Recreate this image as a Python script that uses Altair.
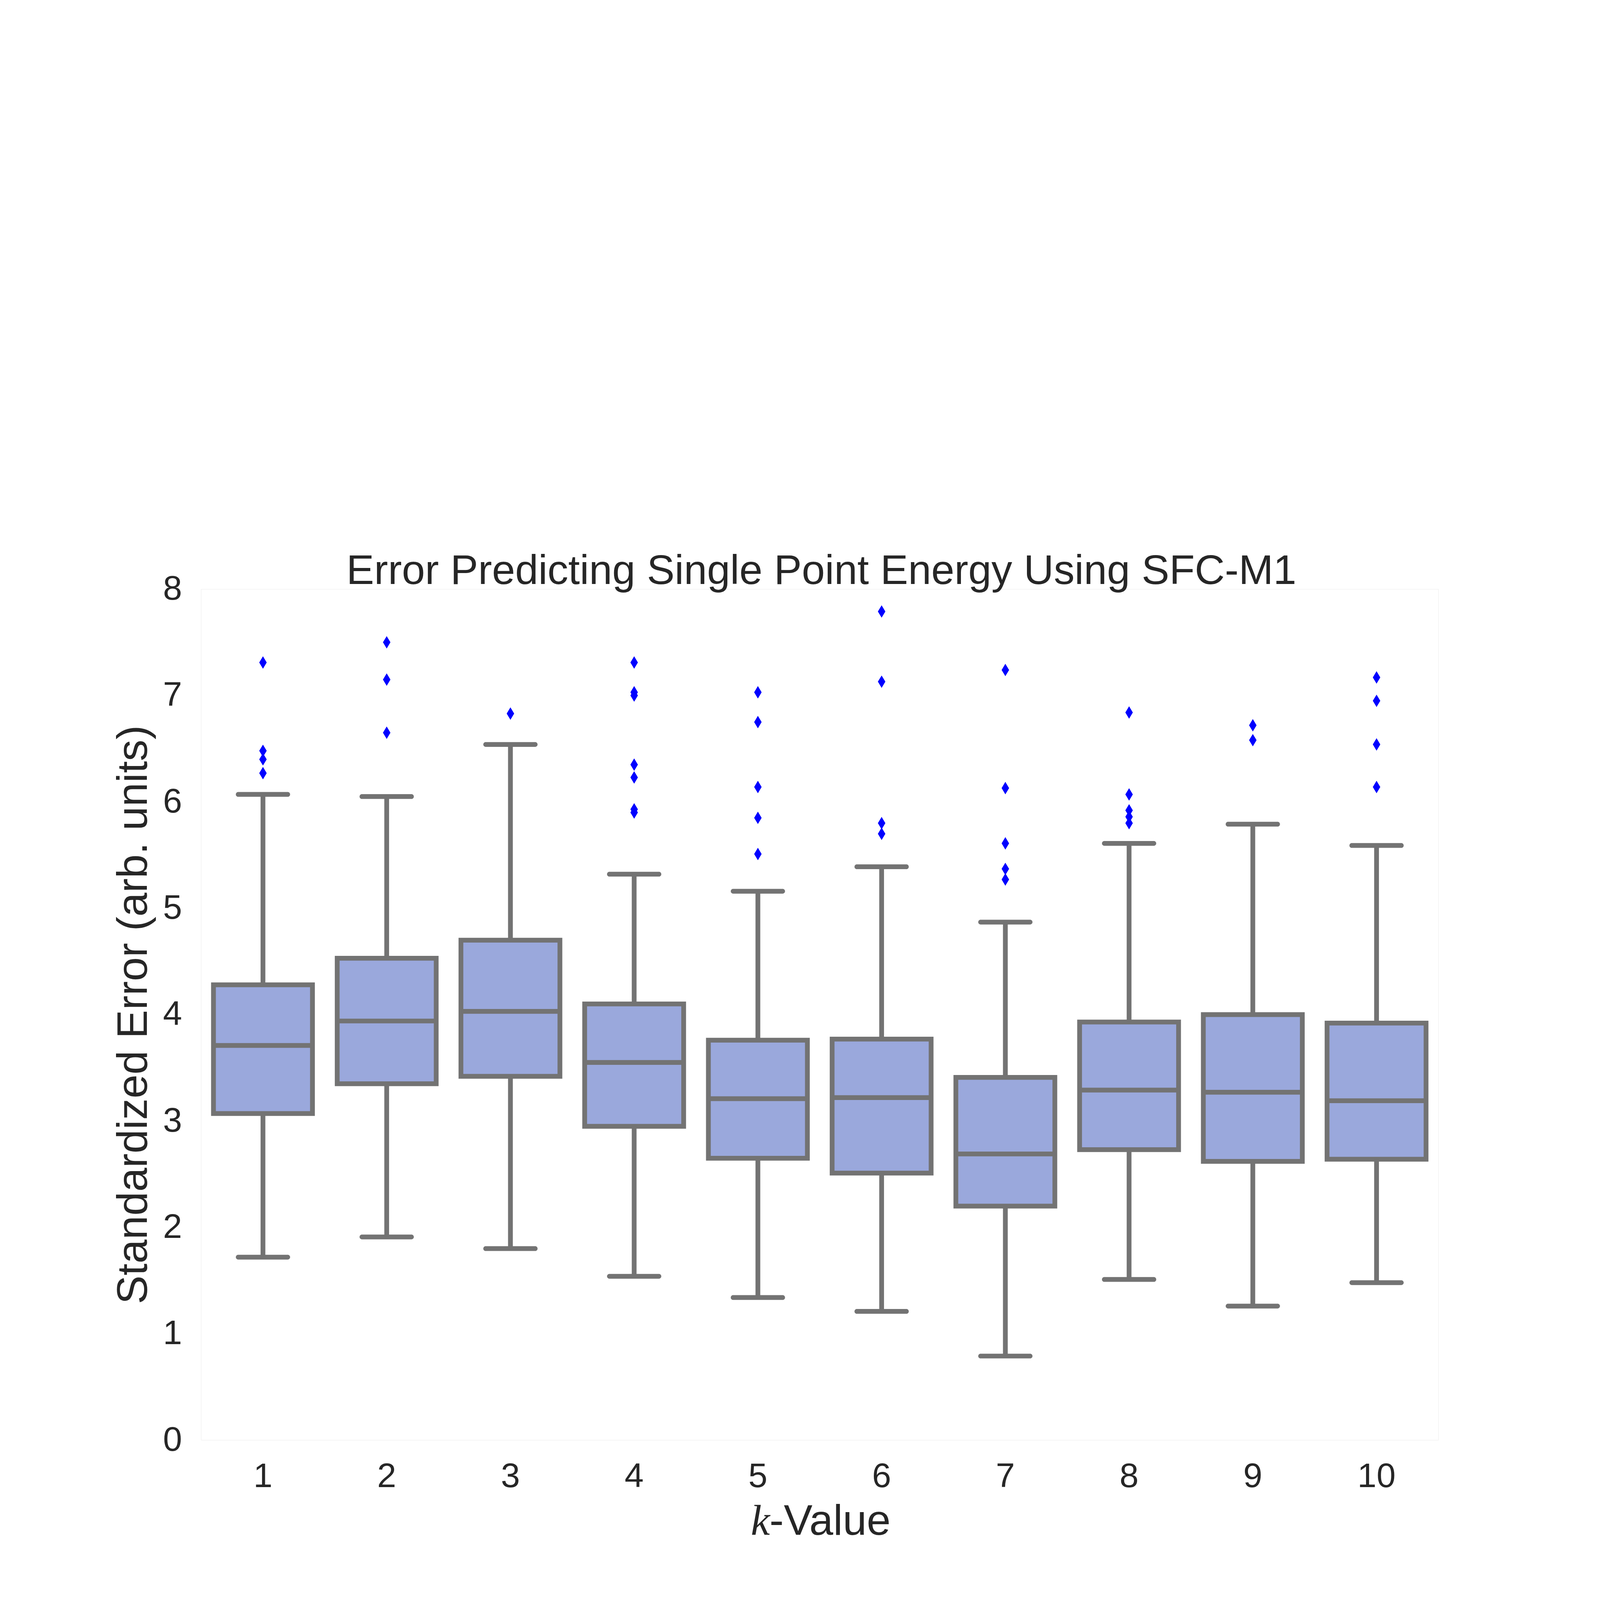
import altair as alt
import pandas as pd

# ---- data ----
k_values = ["1", "2", "3", "4", "5", "6", "7", "8", "9", "10"]
whisk_lo = [1.72, 1.91, 1.80, 1.54, 1.34, 1.21, 0.79, 1.51, 1.26, 1.48]
q1 =       [3.07, 3.35, 3.42, 2.95, 2.65, 2.51, 2.20, 2.73, 2.62, 2.64]
median =   [3.71, 3.94, 4.03, 3.55, 3.21, 3.22, 2.69, 3.29, 3.27, 3.19]
q3 =       [4.28, 4.53, 4.70, 4.10, 3.76, 3.77, 3.41, 3.93, 4.00, 3.92]
whisk_hi = [6.07, 6.05, 6.54, 5.32, 5.16, 5.39, 4.87, 5.61, 5.79, 5.59]
outliers = [
    [7.31, 6.48, 6.40, 6.27],
    [7.50, 7.15, 6.65],
    [6.83],
    [7.31, 7.03, 7.00, 6.35, 6.23, 5.93, 5.90],
    [7.03, 6.75, 6.14, 5.85, 5.51],
    [7.79, 7.13, 5.80, 5.70],
    [7.24, 6.13, 5.61, 5.37, 5.27],
    [6.84, 6.07, 5.92, 5.86, 5.80],
    [6.72, 6.58],
    [7.17, 6.95, 6.54, 6.14],
]
y_ticks = [0, 1, 2, 3, 4, 5, 6, 7, 8]

title_text = "Error Predicting Single Point Energy Using SFC-M1"
y_title = "Standardized Error (arb. units)"
x_title_k = "k"
x_title_rest = "-Value"

# ---- layout ----
W, H = 5950, 4092
STEP = W / 10
LW = 23
GRAY = "#737373"
FILL = "#9aa8dc"
TXT = "#262626"
FONT = "Liberation Sans"

stats = pd.DataFrame({"k": k_values, "lo": whisk_lo, "q1": q1, "med": median,
                      "q3": q3, "hi": whisk_hi})
out_df = pd.DataFrame([{"k": k, "v": v} for k, vs in zip(k_values, outliers) for v in vs])

xscale = alt.Scale(domain=k_values, paddingInner=0.2, paddingOuter=0.1)
yscale = alt.Scale(domain=[0, 8], nice=False, zero=False)

x_enc = alt.X("k:N", scale=xscale, sort=k_values,
              axis=alt.Axis(title=None, labelAngle=0, labelFontSize=165, labelFont=FONT,
                            labelColor=TXT, ticks=False, tickSize=0, domain=False,
                            grid=False, labelPadding=95, labelBaseline="top",
                            labelLimit=2000))
y_axis = alt.Axis(values=y_ticks, format="d", title=y_title, titleFontSize=207,
                  titleFont=FONT, titleColor=TXT, titleFontWeight="normal",
                  titleX=-262, titleY=H / 2, titleAngle=270, titleBaseline="alphabetic",
                  titleAlign="center", titleLimit=8000,
                  labelFontSize=165, labelFont=FONT, labelColor=TXT, ticks=False,
                  tickSize=0, domain=False, grid=False, labelPadding=92, labelLimit=2000)

base = alt.Chart(stats)

whisk = base.mark_rule(color=GRAY, strokeWidth=LW).encode(
    x=x_enc, y=alt.Y("lo:Q", scale=yscale, axis=y_axis), y2="hi:Q")

caps_lo = base.mark_tick(color=GRAY, size=0.4 * STEP + LW, thickness=LW,
                         cornerRadius=LW / 2, opacity=1).encode(
    x=alt.X("k:N", scale=xscale, sort=k_values), y=alt.Y("lo:Q", scale=yscale))
caps_hi = base.mark_tick(color=GRAY, size=0.4 * STEP + LW, thickness=LW,
                         cornerRadius=LW / 2, opacity=1).encode(
    x=alt.X("k:N", scale=xscale, sort=k_values), y=alt.Y("hi:Q", scale=yscale))

box = base.mark_bar(fill=FILL, stroke=GRAY, strokeWidth=LW, opacity=1).encode(
    x=alt.X("k:N", scale=xscale, sort=k_values), y=alt.Y("q1:Q", scale=yscale), y2="q3:Q")

med = base.mark_tick(color=GRAY, size=0.8 * STEP, thickness=LW, opacity=1).encode(
    x=alt.X("k:N", scale=xscale, sort=k_values), y=alt.Y("med:Q", scale=yscale))

pts = alt.Chart(out_df).mark_point(
    shape="M0,-1L0.6,0L0,1L-0.6,0Z", filled=True, fill="#0000ff", strokeWidth=0,
    size=3600, opacity=1).encode(
    x=alt.X("k:N", scale=xscale, sort=k_values), y=alt.Y("v:Q", scale=yscale))

# chart title as a text mark placed just above the plot area
ttl = alt.Chart(pd.DataFrame({"t": [title_text]})).mark_text(
    font=FONT, fontSize=200, color=TXT, align="center", baseline="alphabetic").encode(
    x=alt.value(W / 2 + 8), y=alt.value(-24), text="t:N")

# x-axis title: italic k + "-Value"
xt_k = alt.Chart(pd.DataFrame({"t": [x_title_k]})).mark_text(
    font="Liberation Serif", fontStyle="italic", fontSize=207, color=TXT,
    align="right", baseline="alphabetic").encode(
    x=alt.value(W / 2 - 240), y=alt.value(4548), text="t:N")
xt_v = alt.Chart(pd.DataFrame({"t": [x_title_rest]})).mark_text(
    font=FONT, fontSize=207, color=TXT, align="left", baseline="alphabetic").encode(
    x=alt.value(W / 2 - 242), y=alt.value(4548), text="t:N")

chart = alt.layer(whisk, caps_lo, caps_hi, box, med, pts, ttl, xt_k, xt_v).properties(
    width=W, height=H,
    autosize=alt.AutoSizeParams(type="none"),
    padding={"left": 952, "top": 506, "right": 762, "bottom": 666},
).configure_view(strokeWidth=0, stroke="transparent").configure(background="white")

chart.save("out.html", embed_options={"renderer": "svg", "actions": False})
